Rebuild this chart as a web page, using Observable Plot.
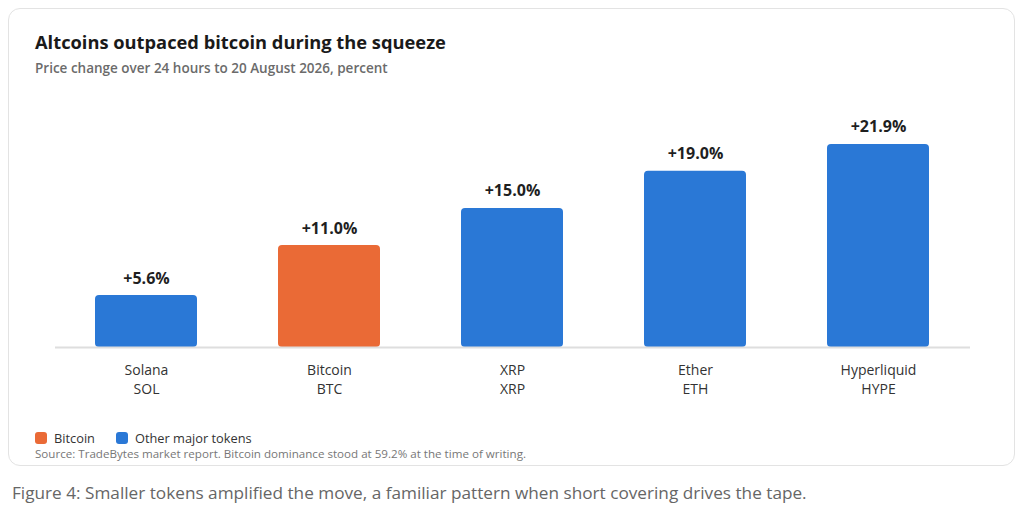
<!DOCTYPE html>
<html><head><meta charset="utf-8">
<script src="https://cdn.jsdelivr.net/npm/d3@7"></script>
<script src="https://cdn.jsdelivr.net/npm/@observablehq/plot@0.6"></script>
<style>
body{margin:0;background:#fff;font-family:"Open Sans","Noto Sans",sans-serif;width:1024px;height:519px;position:relative;overflow:hidden}
#card{position:absolute;left:8px;top:8px;width:1005px;height:456px;border:1px solid #e3e3e3;border-radius:12px;box-sizing:content-box}
#title{position:absolute;left:35px;top:29px;font-size:18.3px;font-weight:700;color:#1a1a1a;white-space:nowrap}
#sub{position:absolute;left:35px;top:59px;font-size:13.5px;font-weight:600;color:#6b6b6b;white-space:nowrap}
#chart{position:absolute;left:0;top:95px}
#legend{position:absolute;left:35px;top:428.5px;font-size:12.8px;color:#333;display:flex;gap:21px;align-items:center;white-space:nowrap}
#legend span.sw{display:inline-block;width:12px;height:12px;border-radius:3px;margin-right:7px;vertical-align:-1px}
#source{position:absolute;left:35px;top:446.3px;font-size:11.6px;color:#777;white-space:nowrap}
#caption{position:absolute;left:12px;top:481px;font-size:17.2px;color:#666;white-space:nowrap}
</style></head>
<body>
<div id="card"></div>
<div id="title">Altcoins outpaced bitcoin during the squeeze</div>
<div id="sub">Price change over 24 hours to 20 August 2026, percent</div>
<div id="chart"></div>
<div id="legend"></div>
<div id="source">Source: TradeBytes market report. Bitcoin dominance stood at 59.2% at the time of writing.</div>
<div id="caption">Figure 4: Smaller tokens amplified the move, a familiar pattern when short covering drives the tape.</div>
<script>
const names = ["Solana","Bitcoin","XRP","Ether","Hyperliquid"];
const tickers = ["SOL","BTC","XRP","ETH","HYPE"];
const changes = [5.6, 11.0, 15.0, 19.0, 21.9];
const groups = ["Other major tokens","Bitcoin","Other major tokens","Other major tokens","Other major tokens"];
const legendLabels = ["Bitcoin","Other major tokens"];
const legendColors = ["#ea6a36","#2a78d6"];

const data = names.map((n,i)=>({name:n, ticker:tickers[i], value:changes[i], group:groups[i]}));
const tickerOf = Object.fromEntries(data.map(d=>[d.name,d.ticker]));

const plot = Plot.plot({
  width:1024, height:310,
  marginLeft:55, marginRight:54, marginTop:29.5, marginBottom:58,
  style:{fontFamily:'"Open Sans","Noto Sans",sans-serif', background:"transparent"},
  x:{domain:names, paddingInner:0.44, paddingOuter:0.22, label:null},
  y:{domain:[0,24], axis:null},
  color:{domain:legendLabels, range:legendColors},
  marks:[
    Plot.barY(data,{x:"name", y:"value", fill:"group", rx:4}),
    Plot.ruleY([0],{stroke:"#dedede", strokeWidth:2}),
    Plot.text(data,{x:"name", y:"value", text:d=>"+"+d.value.toFixed(1)+"%", lineAnchor:"bottom", dy:-12, fontSize:16, fontWeight:700, fill:"#1f1f1f"}),
    Plot.axisX({tickSize:0, tickPadding:15, fontSize:14, fill:"#333", lineHeight:1.3, tickFormat:n=>n+"\n"+tickerOf[n], label:null})
  ]
});
document.getElementById("chart").appendChild(plot);

const lg = document.getElementById("legend");
legendLabels.forEach((l,i)=>{
  const s=document.createElement("span");
  s.innerHTML=`<span class="sw" style="background:${legendColors[i]}"></span>${l}`;
  lg.appendChild(s);
});
</script>
</body></html>
